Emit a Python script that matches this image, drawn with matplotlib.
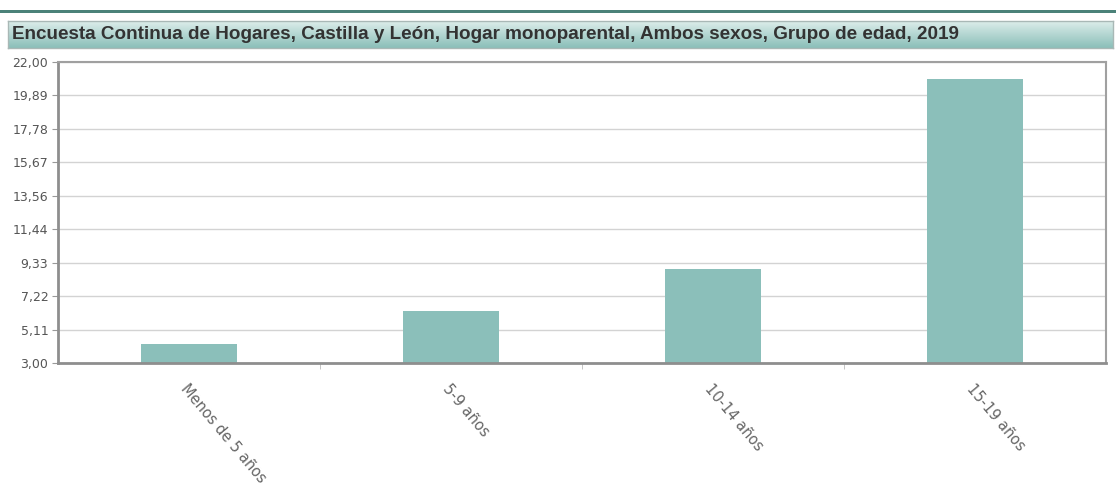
import numpy as np
import matplotlib.pyplot as plt
from matplotlib.patches import Rectangle
from matplotlib.colors import LinearSegmentedColormap

# datos
categorias = ['Menos de 5 años', '5-9 años', '10-14 años', '15-19 años']
valores = [4.18, 6.28, 8.93, 20.91]
y_ticks = [3.00, 5.11, 7.22, 9.33, 11.44, 13.56, 15.67, 17.78, 19.89, 22.00]
titulo = 'Encuesta Continua de Hogares, Castilla y León, Hogar monoparental, Ambos sexos, Grupo de edad, 2019'

W, H = 1116, 486
fig = plt.figure(figsize=(W / 100, H / 100), dpi=100)
fig.patch.set_facecolor('white')

# linea superior y barra de titulo con degradado
fig.add_artist(Rectangle((0 / W, 1 - 13 / H), 1116 / W, 3 / H, transform=fig.transFigure,
                         facecolor='#4b8279', edgecolor='none'))
grad_ax = fig.add_axes([8 / W, 1 - 48 / H, 1105 / W, 27 / H])
grad = np.linspace(0, 1, 64).reshape(-1, 1)
cmap = LinearSegmentedColormap.from_list('t', ['#dcedea', '#8bbfb9'])
grad_ax.imshow(grad, aspect='auto', cmap=cmap, extent=[0, 1, 0, 1], origin='upper')
grad_ax.set_xticks([])
grad_ax.set_yticks([])
for s in grad_ax.spines.values():
    s.set_color('#a9b8b6')
    s.set_linewidth(1)
grad_ax.text(0.004, 0.5, titulo, transform=grad_ax.transAxes, ha='left', va='center',
             fontsize=13.6, fontweight='bold', color='#333333', family='Liberation Sans')

# area del grafico
left, right, top, bottom = 58, 1106, 62, 363
ax = fig.add_axes([left / W, 1 - bottom / H, (right - left) / W, (bottom - top) / H])
x = np.arange(len(categorias))
ax.bar(x, valores, width=0.37, bottom=0, color='#8bbfba', edgecolor='none', zorder=2)
ax.set_xlim(-0.5, len(categorias) - 0.5)
ax.set_ylim(3, 22)
ax.set_yticks(y_ticks)
ax.set_yticklabels([f'{v:.2f}'.replace('.', ',') for v in y_ticks])
ax.grid(axis='y', color='#d3d3d3', linewidth=1, zorder=0)
ax.set_axisbelow(True)

ax.set_xticks(x)
ax.set_xticklabels(categorias, rotation=-50, ha='left', va='top', rotation_mode='anchor',
                   fontsize=10.5, color='#666666', family='DejaVu Sans')
ax.tick_params(axis='x', length=0, pad=13)
ax.set_xticks(np.arange(0.5, len(categorias) - 0.5, 1), minor=True)
ax.tick_params(axis='x', which='minor', length=4, color='#bbbbbb', direction='out')
ax.tick_params(axis='y', length=4, color='#999999', labelsize=9, labelcolor='#555555', pad=3)

for side in ['left', 'bottom']:
    ax.spines[side].set_color('#8e8e8e')
    ax.spines[side].set_linewidth(2)
for side in ['right', 'top']:
    ax.spines[side].set_color('#a0a0a0')
    ax.spines[side].set_linewidth(1.5)

fig.savefig('out.png', dpi=100)
